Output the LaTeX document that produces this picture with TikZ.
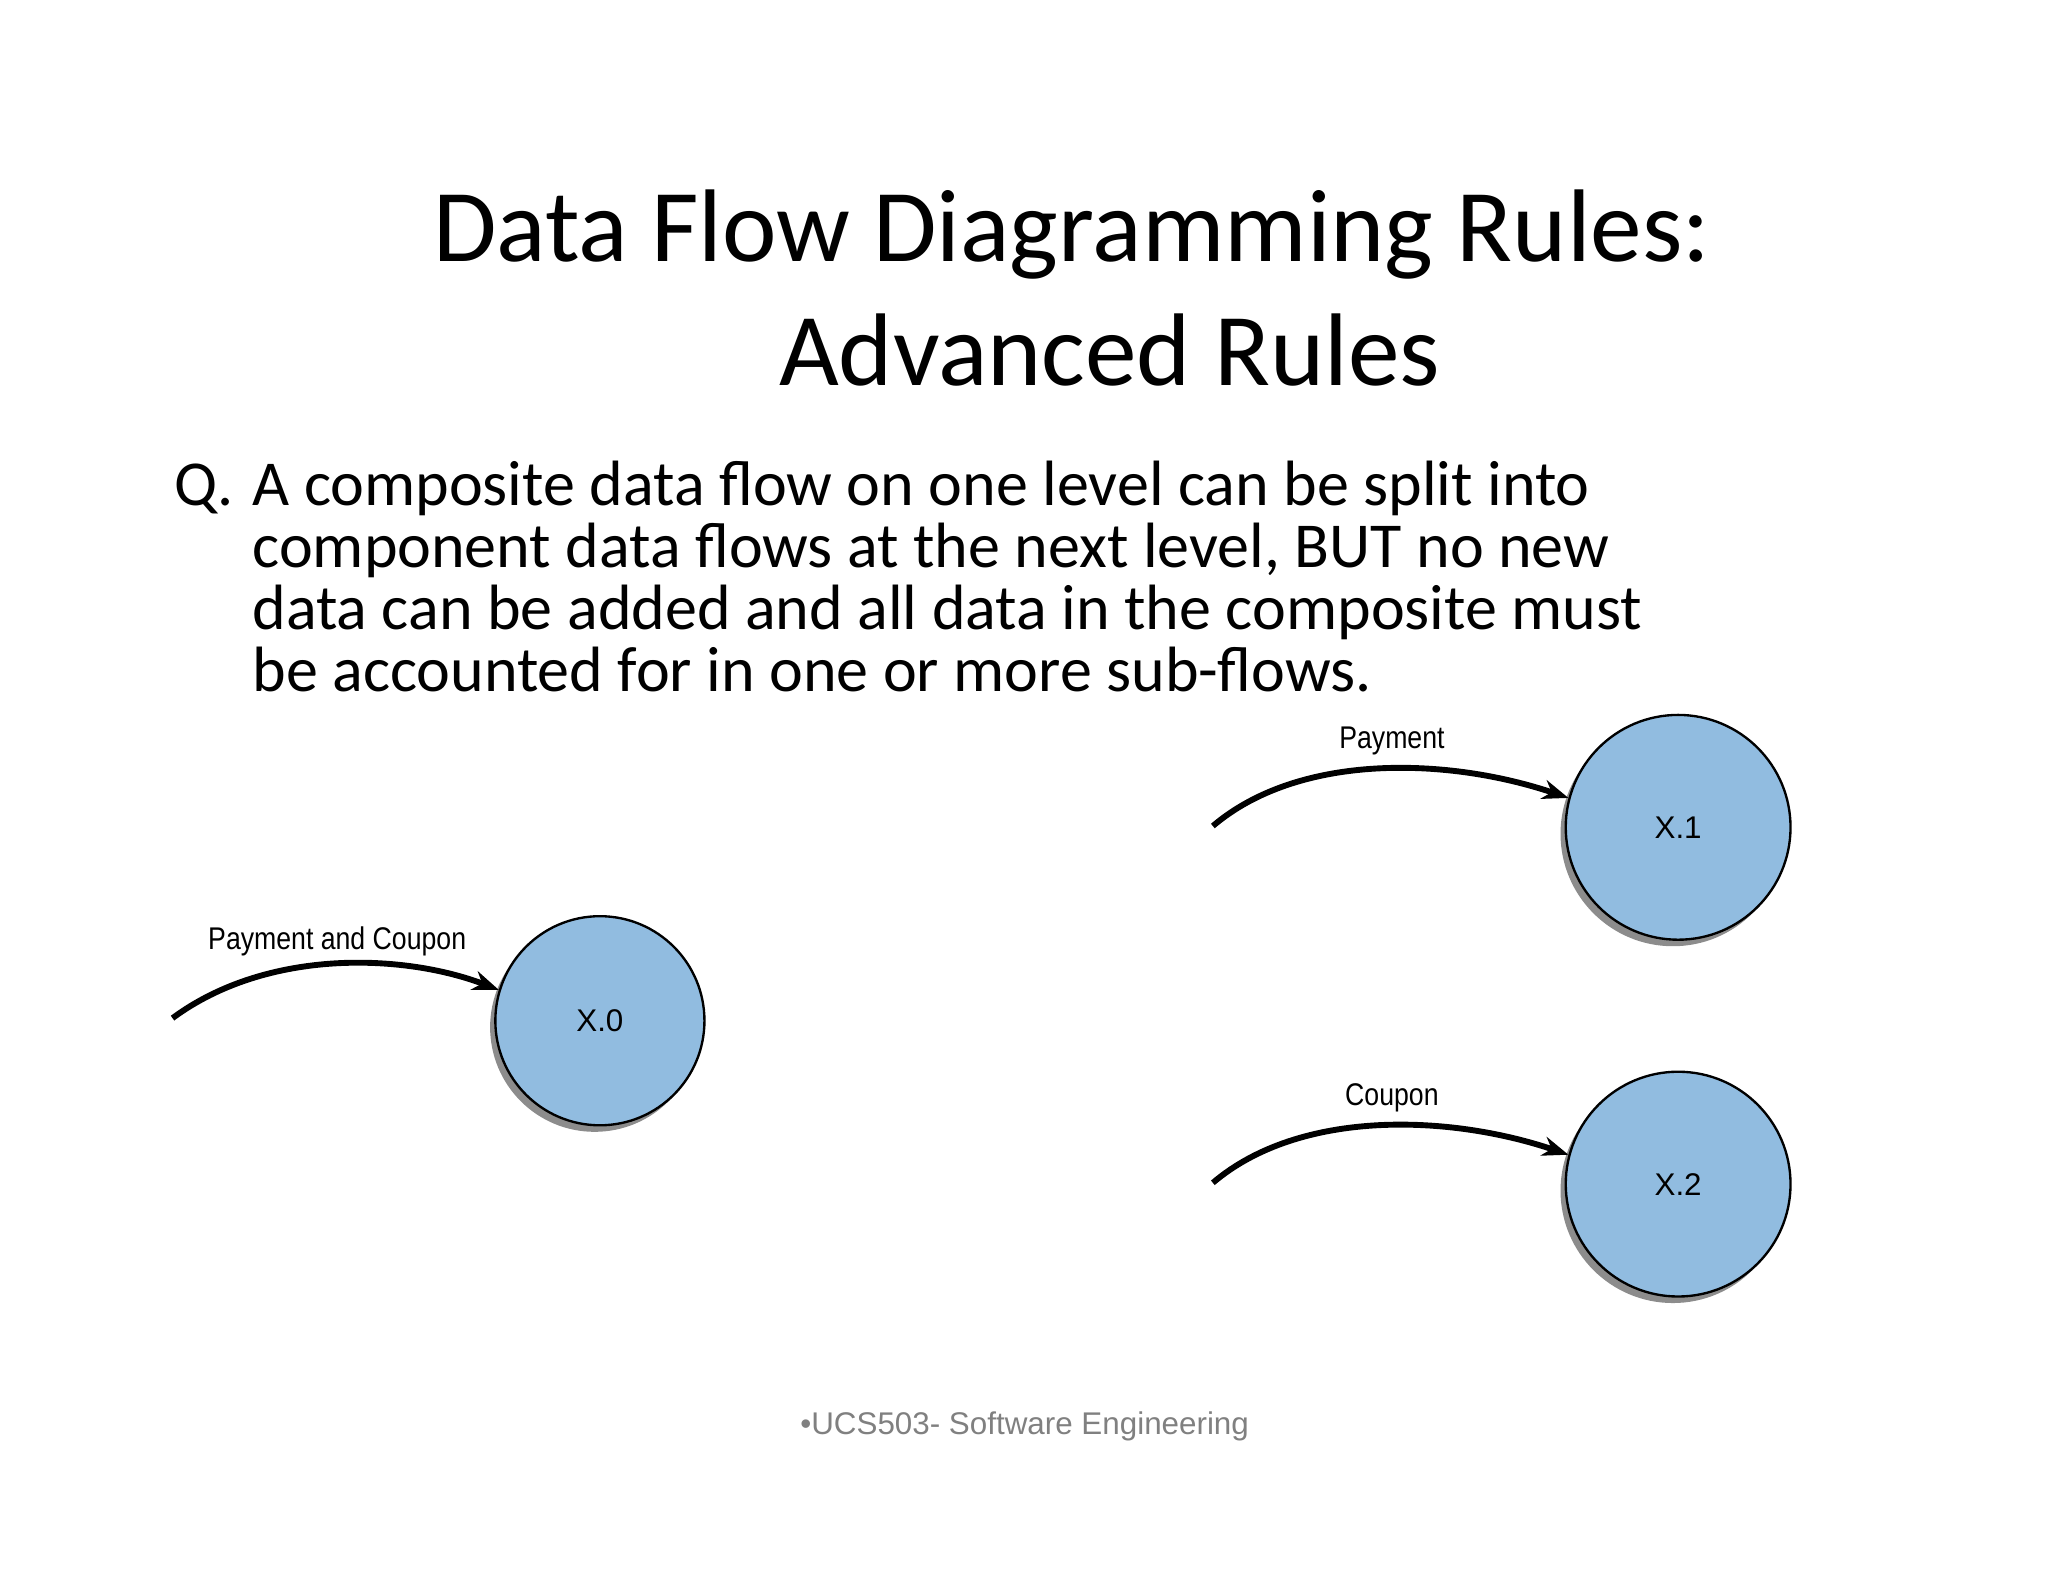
\documentclass[tikz,border=0pt]{standalone}
\usepackage{fontspec}
\setmainfont{Carlito}
\newfontfamily\lab{Liberation Sans}
\usetikzlibrary{arrows.meta,shadows}
\begin{document}
\begin{tikzpicture}[x=1pt,y=-1pt,
  proc/.style={circle,draw=black,line width=1.8pt,fill=procblue,minimum size=#1,inner sep=0pt,
    drop shadow={shadow xshift=-4pt,shadow yshift=-5pt,fill=black,opacity=0.45},font=\lab\fontsize{24}{26}\selectfont},
  flow/.style={line width=4.5pt,-{Stealth[length=20pt,width=15pt]}},
  flab/.style={font=\lab\fontsize{24}{26}\selectfont,inner sep=0pt,xscale=0.85}]
\definecolor{procblue}{HTML}{91BCE0}
\useasboundingbox (0,0) rectangle (1567,1210);
\node[anchor=base,font=\fontsize{79}{96}\selectfont] (t1) at (820,200) {Data Flow Diagramming Rules:};
\node[anchor=base,font=\fontsize{79}{96}\selectfont] (t2) at (849,295) {Advanced Rules};
\node[anchor=base west,font=\fontsize{49}{48}\selectfont,inner sep=0pt] (q) at (133,387) {Q.};
\node[anchor=base west,font=\fontsize{49}{48}\selectfont,inner sep=0pt,align=left] (body) at (193,387)
 {A composite data flow on one level can be split into};
\node[anchor=base west,font=\fontsize{49}{48}\selectfont,inner sep=0pt] (b2) at (193,434) {component data flows at the next level, BUT no new};
\node[anchor=base west,font=\fontsize{49}{48}\selectfont,inner sep=0pt] (b3) at (193,482) {data can be added and all data in the composite must};
\node[anchor=base west,font=\fontsize{49}{48}\selectfont,inner sep=0pt] (b4) at (193,529) {be accounted for in one or more sub-flows.};
\node[proc=160pt] (x0) at (459,781) {X.0};
\node[proc=172pt] (x1) at (1284,633) {X.1};
\node[proc=172pt] (x2) at (1284,906) {X.2};
\coordinate (s0) at (132,779);
\coordinate (s1) at (928,632);
\coordinate (s2) at (928,905);
\draw[flow] (s0) .. controls (205,725) and (310,730) .. (x0.163);
\draw[flow] (s1) .. controls (995,575) and (1110,580) .. (x1.165);
\draw[flow] (s2) .. controls (995,848) and (1110,853) .. (x2.165);
\node[flab] (l0) at (258,720) {Payment and Coupon};
\node[flab] (l1) at (1065,567) {Payment};
\node[flab] (l2) at (1065,840) {Coupon};
\node[font=\lab\fontsize{24}{26}\selectfont,text=gray] (ft) at (784,1091) {•UCS503- Software Engineering};
\end{tikzpicture}
\end{document}
